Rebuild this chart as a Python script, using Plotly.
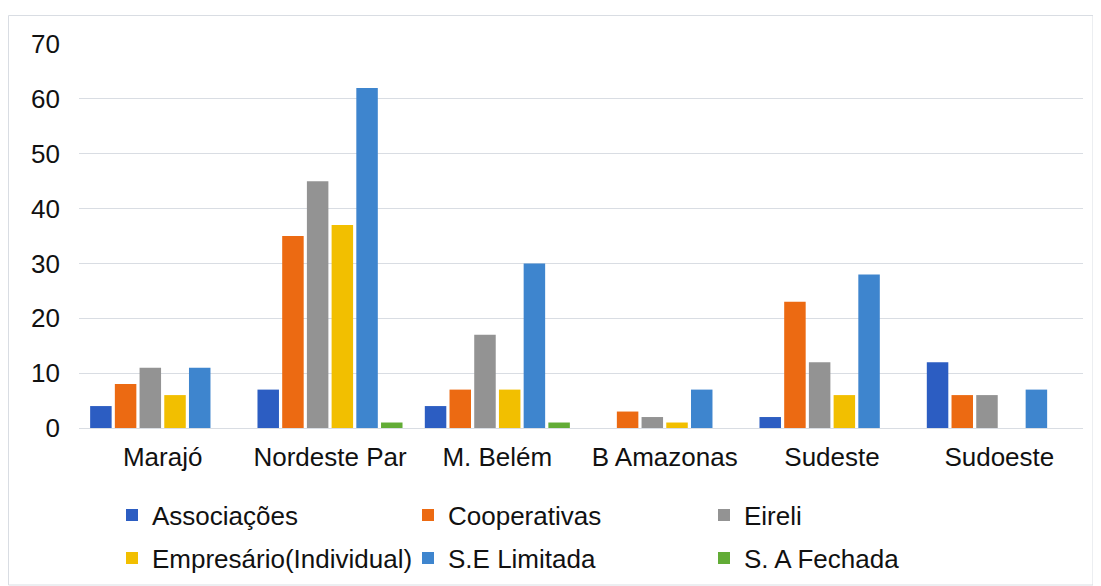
import plotly.graph_objects as go

categories = ["Marajó", "Nordeste Par", "M. Belém", "B Amazonas", "Sudeste", "Sudoeste"]
associacoes = [4, 7, 4, 0, 2, 12]
cooperativas = [8, 35, 7, 3, 23, 6]
eireli = [11, 45, 17, 2, 12, 6]
empresario = [6, 37, 7, 1, 6, 0]
se_limitada = [11, 62, 30, 7, 28, 7]
sa_fechada = [0, 1, 1, 0, 0, 0]

series = [
    ("Associações", associacoes, "#2C5DC2", "legend"),
    ("Cooperativas", cooperativas, "#EC6A12", "legend"),
    ("Eireli", eireli, "#939393", "legend"),
    ("Empresário(Individual)", empresario, "#F2BF00", "legend2"),
    ("S.E Limitada", se_limitada, "#3E85CE", "legend2"),
    ("S. A Fechada", sa_fechada, "#62AC36", "legend2"),
]

fig = go.Figure()
for name, vals, color, lg in series:
    fig.add_trace(go.Bar(x=categories, y=vals, name=name, legend=lg,
                         marker=dict(color=color, line=dict(width=0))))

# page has an 8px body margin: figure coords = page coords - 8
OFF = 8
W, H = 1101 - OFF, 586 - OFF
L = 79 - OFF
T = 44 - OFF
R = W - (1083 - OFF)
B = H - (428 - OFF)
pw, ph = W - L - R, H - T - B

def px2x(p):  # page px -> paper x
    return (p - OFF - L) / pw

def py2y(p):  # page px -> paper y
    return (H - B - (p - OFF)) / ph

leg_common = dict(orientation="h", xanchor="left", yanchor="middle",
                  entrywidth=251, entrywidthmode="pixels",
                  font=dict(size=26, color="#111111"), itemwidth=30,
                  bgcolor="rgba(0,0,0,0)", tracegroupgap=0)

fig.update_layout(
    width=W, height=H,
    margin=dict(l=L, r=R, t=T, b=B, autoexpand=False),
    paper_bgcolor="white", plot_bgcolor="white",
    barmode="group", bargap=0.114, bargroupgap=0.13,
    font=dict(family="Liberation Sans, Arial, sans-serif", size=26, color="#111111"),
    xaxis=dict(showgrid=False, showline=False, ticks="", tickfont=dict(size=26),
               automargin=False, ticklabelstandoff=11),
    yaxis=dict(range=[0, 70], dtick=10, showgrid=True, gridcolor="#d9dde3", gridwidth=1,
               zeroline=True, zerolinecolor="#d9dde3", zerolinewidth=1,
               showline=False, ticks="", tickfont=dict(size=26),
               automargin=False, ticklabelstandoff=18),
    legend=dict(x=px2x(112), y=py2y(515), **leg_common),
    legend2=dict(x=px2x(112), y=py2y(558), **leg_common),
    showlegend=True,
)

fig.add_shape(type="rect", xref="paper", yref="paper",
              x0=px2x(8.5), x1=px2x(1093), y0=py2y(585), y1=py2y(15.5),
              line=dict(color="#d9dde3", width=1), layer="below")

fig.write_html("out.html")
